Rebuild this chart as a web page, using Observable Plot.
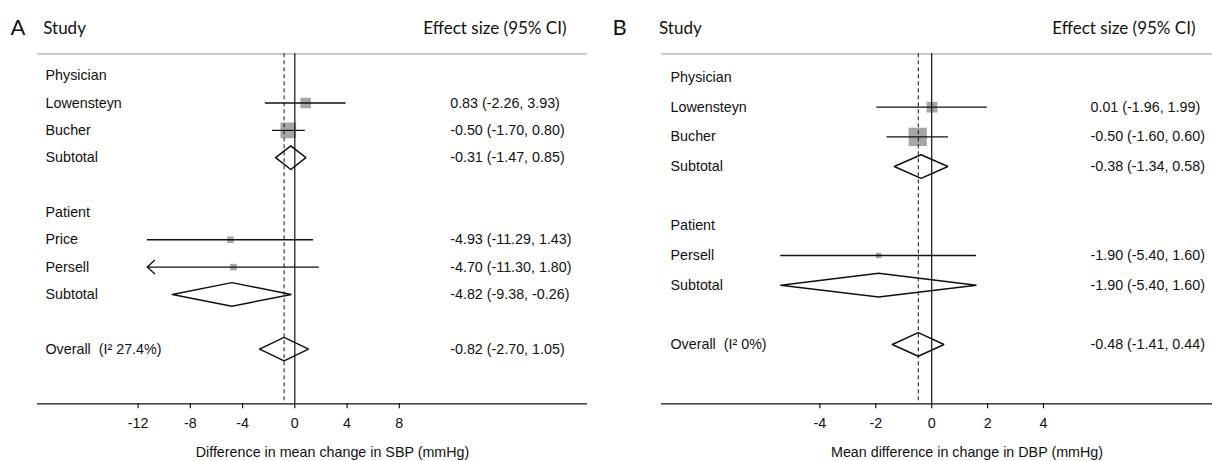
<!DOCTYPE html>
<html><head><meta charset="utf-8">
<script src="https://cdn.jsdelivr.net/npm/d3@7"></script>
<script src="https://cdn.jsdelivr.net/npm/@observablehq/plot@0.6"></script>
<style>
body{margin:0;background:#fff;}
#wrap{display:flex;width:1212px;height:461px;overflow:hidden;}
#wrap svg{font-family:'Liberation Sans', Arial, sans-serif !important;font-size:14.3px !important;}
</style></head><body><div id="wrap"></div>
<script>
// ---------- Panel A (SBP) ----------
const labelsA = ["Physician","Lowensteyn","Bucher","Subtotal","","Patient","Price","Persell","Subtotal","","Overall\u00a0 (I\u00b2 27.4%)"];
const kindsA  = ["group","study","study","pooled","blank","group","study","study","pooled","blank","pooled"];
const estA    = [null, 0.83, -0.50, -0.31, null, null, -4.93, -4.70, -4.82, null, -0.82];
const loA     = [null, -2.26, -1.70, -1.47, null, null, -11.29, -11.30, -9.38, null, -2.70];
const hiA     = [null, 3.93, 0.80, 0.85, null, null, 1.43, 1.80, -0.26, null, 1.05];
const weightA = [null, 25.0, 55.8, null, null, null, 9.6, 9.6, null, null, null];
const clipA   = [false, false, false, false, false, false, false, true, false, false, false];
const ticksA  = [-12, -8, -4, 0, 4, 8];

// ---------- Panel B (DBP) ----------
const labelsB = ["Physician","Lowensteyn","Bucher","Subtotal","","Patient","Persell","Subtotal","","Overall\u00a0 (I\u00b2 0%)"];
const kindsB  = ["group","study","study","pooled","blank","group","study","pooled","blank","pooled"];
const estB    = [null, 0.01, -0.50, -0.38, null, null, -1.90, -1.90, null, -0.48];
const loB     = [null, -1.96, -1.60, -1.34, null, null, -5.40, -5.40, null, -1.41];
const hiB     = [null, 1.99, 0.60, 0.58, null, null, 1.60, 1.60, null, 0.44];
const weightB = [null, 23.9, 69.8, null, null, null, 6.3, null, null, null];
const clipB   = [false, false, false, false, false, false, false, false, false, false];
const ticksB  = [-4, -2, 0, 2, 4];

const fmt = v => v.toFixed(2);
const HEAD = "Lato, 'Open Sans', sans-serif";
const BODY = "'Liberation Sans', Arial, sans-serif";

function panel(cfg) {
  const rows = cfg.labels.map((label, i) => ({
    row: i, label, kind: cfg.kinds[i], est: cfg.est[i], lo: cfg.lo[i], hi: cfg.hi[i],
    w: cfg.weight[i], clip: cfg.clip[i]
  }));
  const nRows = rows.length;
  const yDomain = [-0.8, nRows + 1];
  const top = 53.3, bottom = 403.3;
  const spacing = (bottom - top) / (yDomain[1] - yDomain[0]);
  const h = 11.8 / spacing; // diamond half-height in row units
  const studies = rows.filter(d => d.kind === "study");
  const pooled = rows.filter(d => d.kind === "pooled");
  const overall = pooled[pooled.length - 1];
  const diamonds = pooled.flatMap(d => [
    [d.lo, d.row], [d.est, d.row - h], [d.hi, d.row], [d.est, d.row + h], [d.lo, d.row]
  ].map(([x, y]) => ({x, y, id: d.row})));
  const ml = cfg.marginLeft, mr = cfg.marginRight;
  const T = {fontFamily: BODY, fontSize: 14.3, fill: "#111", lineAnchor: "middle"};

  return Plot.plot({
    width: 606, height: 461,
    marginTop: top, marginBottom: 461 - bottom, marginLeft: ml, marginRight: mr,
    style: {fontFamily: BODY, fontSize: "14.3px", color: "#111", background: "white", overflow: "visible"},
    x: {domain: cfg.xDomain, range: cfg.xRange, axis: null},
    y: {domain: yDomain, range: [top, bottom], axis: null},
    r: {type: "sqrt", domain: [0, 100], range: [0, cfg.rMax]},
    marks: [
      Plot.ruleY([yDomain[0]], {stroke: "#ababab", strokeWidth: 1.3}),
      Plot.ruleY([yDomain[1]], {stroke: "#111", strokeWidth: 1.2}),
      Plot.dot(studies, {x: "est", y: "row", r: "w", symbol: "square", fill: "#a6a6a6", stroke: null}),
      Plot.ruleY(studies.filter(d => !d.clip), {x1: "lo", x2: "hi", y: "row", stroke: "#111", strokeWidth: 1.3}),
      Plot.arrow(studies.filter(d => d.clip), {x1: "hi", x2: "lo", y1: "row", y2: "row", stroke: "#111", strokeWidth: 1.3, headAngle: 85, headLength: 11.5}),
      Plot.line(diamonds, {x: "x", y: "y", z: "id", stroke: "#111", strokeWidth: 1.5, strokeLinejoin: "miter"}),
      Plot.ruleX([0], {stroke: "#111", strokeWidth: 1.2}),
      Plot.ruleX([overall.est], {stroke: "#111", strokeWidth: 1, strokeDasharray: "4,3"}),
      Plot.text(rows.filter(d => d.label), {...T, frameAnchor: "left", dx: cfg.labelDx, y: "row", text: "label", textAnchor: "start"}),
      Plot.text(rows.filter(d => d.est != null), {...T, frameAnchor: "left", dx: cfg.effDx, y: "row", text: d => `${fmt(d.est)} (${fmt(d.lo)}, ${fmt(d.hi)})`, textAnchor: "start"}),
      Plot.text([cfg.letter], {frameAnchor: "top-left", dx: cfg.letterDx, dy: -26.3, textAnchor: "start", lineAnchor: "middle", fontFamily: HEAD, fontSize: 22, fill: "#111"}),
      Plot.text(["Study"], {frameAnchor: "top-left", dx: cfg.studyDx, dy: -25.5, textAnchor: "start", lineAnchor: "middle", fontFamily: HEAD, fontSize: 17, fill: "#111"}),
      Plot.text(["Effect size (95% CI)"], {frameAnchor: "top-left", dx: cfg.headDx, dy: -25.5, textAnchor: "end", lineAnchor: "middle", fontFamily: HEAD, fontSize: 17, fill: "#111"}),
      Plot.axisX({ticks: cfg.ticks, tickSize: 5, tickPadding: 9, tickFormat: d => String(d), label: null, stroke: "#111", fill: "#111", strokeWidth: 1.2, fontFamily: BODY, fontSize: 14.3}),
      Plot.text([cfg.xTitle], {...T, frameAnchor: "bottom-left", dx: cfg.titleDx, dy: 48.7, textAnchor: "middle"})
    ]
  });
}

const wrap = document.getElementById("wrap");
wrap.append(panel({
  labels: labelsA, kinds: kindsA, est: estA, lo: loA, hi: hiA, weight: weightA, clip: clipA, ticks: ticksA,
  xDomain: [-12, 8], xRange: [137.6, 398.8], rMax: 11.85,
  marginLeft: 37, marginRight: 19, labelDx: 8, effDx: 412.7,
  letter: "A", letterDx: -27, studyDx: 5.7, headDx: 529,
  xTitle: "Difference in mean change in SBP (mmHg)", titleDx: 295
}));
wrap.append(panel({
  labels: labelsB, kinds: kindsB, est: estB, lo: loB, hi: hiB, weight: weightB, clip: clipB, ticks: ticksB,
  xDomain: [-4, 4], xRange: [213.4, 437], rMax: 12.36,
  marginLeft: 55, marginRight: 0, labelDx: 9, effDx: 429,
  letter: "B", letterDx: -49, studyDx: -2.5, headDx: 534,
  xTitle: "Mean difference in change in DBP (mmHg)", titleDx: 305.5
}));
</script></body></html>
